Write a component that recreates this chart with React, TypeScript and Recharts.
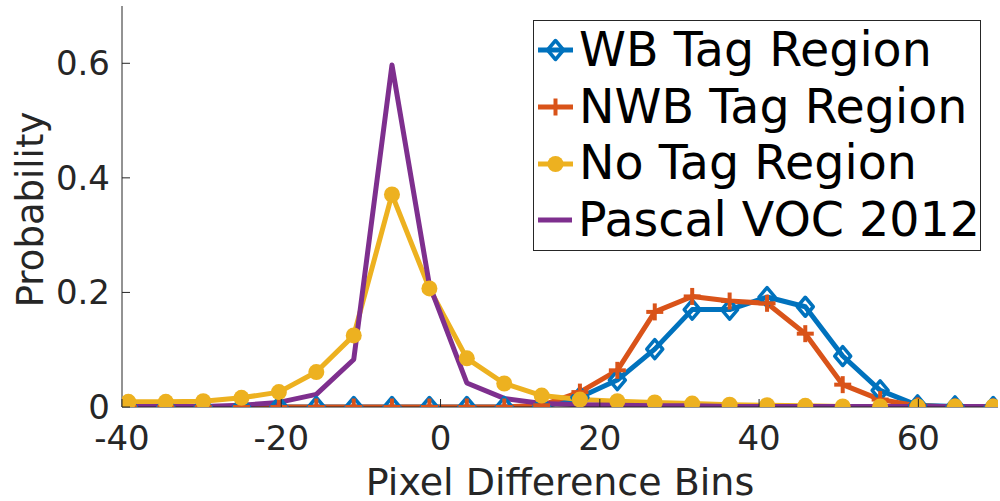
import React from 'react';
import { LineChart, Line, XAxis, YAxis, Legend, Label } from 'recharts';

// Bin centres (x)
const xBins = [-39.2, -34.5, -29.8, -25.0, -20.3, -15.6, -10.9, -6.1, -1.4, 3.3, 8.0, 12.7, 17.5, 22.2, 26.9, 31.6, 36.3, 41.0, 45.8, 50.5, 55.2, 59.9, 64.6, 69.4];

const wbTag = [0, 0, 0, 0, 0, 0, 0, 0, 0, 0, 0, 0, 0.017, 0.047, 0.101, 0.170, 0.170, 0.192, 0.175, 0.089, 0.029, 0.003, 0.001, 0];
const nwbTag = [0, 0, 0, 0, 0, 0, 0, 0, 0, 0, 0, 0.003, 0.026, 0.064, 0.166, 0.193, 0.185, 0.181, 0.128, 0.039, 0.013, 0.002, 0, 0];
const noTag = [0.009, 0.009, 0.01, 0.016, 0.026, 0.061, 0.125, 0.371, 0.207, 0.085, 0.041, 0.020, 0.013, 0.010, 0.008, 0.006, 0.004, 0.003, 0.002, 0.001, 0.001, 0.001, 0.001, 0.001];
const pascal = [0.001, 0.001, 0.001, 0.003, 0.008, 0.022, 0.083, 0.597, 0.213, 0.042, 0.015, 0.006, 0.004, 0.003, 0.002, 0.002, 0.001, 0.001, 0.001, 0.001, 0.001, 0.001, 0.001, 0.001];

const xTicks = [-40, -20, 0, 20, 40, 60];
const yTicks = [0, 0.2, 0.4, 0.6];

const seriesKeys = ['wb', 'nwb', 'noTag', 'pascal'];
const seriesNames: Record<string, string> = {
  wb: 'WB Tag Region',
  nwb: 'NWB Tag Region',
  noTag: 'No Tag Region',
  pascal: 'Pascal VOC 2012',
};

const C_BLUE = '#0072BD';
const C_RED = '#D95319';
const C_YEL = '#EDB120';
const C_PUR = '#7E2F8E';
const AX = '#262626';
const FONT = 'DejaVu Sans';

const data = xBins.map((x, i) => ({
  x,
  wb: wbTag[i],
  nwb: nwbTag[i],
  noTag: noTag[i],
  pascal: pascal[i],
}));

const Diamond = ({ cx, cy }: any) => (
  <polygon
    points={`${cx},${cy - 9.5} ${cx + 8},${cy} ${cx},${cy + 9.5} ${cx - 8},${cy}`}
    fill="none"
    stroke={C_BLUE}
    strokeWidth={3.5}
    strokeLinejoin="round"
  />
);
const Plus = ({ cx, cy }: any) => (
  <g>
    <line x1={cx - 8.5} y1={cy} x2={cx + 8.5} y2={cy} stroke={C_RED} strokeWidth={4} />
    <line x1={cx} y1={cy - 8.5} x2={cx} y2={cy + 8.5} stroke={C_RED} strokeWidth={4} />
  </g>
);
const Dot = ({ cx, cy }: any) => <circle cx={cx} cy={cy} r={8} fill={C_YEL} />;

const diamondDot = (p: any) => <Diamond key={`wb-${p.index}`} cx={p.cx} cy={p.cy} />;
const plusDot = (p: any) => <Plus key={`nwb-${p.index}`} cx={p.cx} cy={p.cy} />;
const circleDot = (p: any) => <Dot key={`nt-${p.index}`} cx={p.cx} cy={p.cy} />;

const BottomTick = (props: any) => {
  const { x, y, payload } = props;
  return (
    <g>
      <line x1={x} y1={y} x2={x} y2={y - 8} stroke={AX} strokeWidth={1} />
      <text x={x} y={y + 43} textAnchor="middle" fontSize={34} fontFamily={FONT} fill={AX}>
        {payload.value}
      </text>
    </g>
  );
};
const TopTick = (props: any) => {
  const { x, y } = props;
  return <line x1={x} y1={y} x2={x} y2={y + 8} stroke={AX} strokeWidth={1} />;
};
const LeftTick = (props: any) => {
  const { x, y, payload } = props;
  return (
    <g>
      <line x1={x} y1={y} x2={x + 8} y2={y} stroke={AX} strokeWidth={1} />
      <text x={x - 12} y={y + 12} textAnchor="end" fontSize={34} fontFamily={FONT} fill={AX}>
        {String(payload.value)}
      </text>
    </g>
  );
};
const RightTick = (props: any) => {
  const { x, y } = props;
  return <line x1={x} y1={y} x2={x - 8} y2={y} stroke={AX} strokeWidth={1} />;
};

const YLabel = (props: any) => {
  const vb = props.viewBox;
  const cx = vb.x + 30;
  const cy = vb.y + vb.height / 2 + 3;
  return (
    <text
      x={cx}
      y={cy}
      transform={`rotate(-90 ${cx} ${cy})`}
      textAnchor="middle"
      dominantBaseline="central"
      fontSize={37}
      fontFamily={FONT}
      fill={AX}
    >
      Probability
    </text>
  );
};

const LegendIcon = ({ k, color }: { k: string; color: string }) => (
  <svg width={35} height={24} style={{ display: 'block' }}>
    <line x1={0} y1={12} x2={35} y2={12} stroke={color} strokeWidth={5} />
    {k === 'wb' && <Diamond cx={17.5} cy={12} />}
    {k === 'nwb' && <Plus cx={17.5} cy={12} />}
    {k === 'noTag' && <Dot cx={17.5} cy={12} />}
  </svg>
);

const LegendBox = (props: any) => {
  const payload = [...(props.payload || [])].sort(
    (a: any, b: any) => seriesKeys.indexOf(a.dataKey) - seriesKeys.indexOf(b.dataKey)
  );
  return (
    <div
      style={{
        width: 446,
        height: 228,
        border: `1px solid ${AX}`,
        background: '#fff',
        boxSizing: 'content-box',
        paddingTop: 1,
      }}
    >
      {payload.map((e: any) => (
        <div
          key={e.dataKey}
          style={{
            display: 'flex',
            alignItems: 'center',
            height: 56.7,
            paddingLeft: 4,
          }}
        >
          <LegendIcon k={e.dataKey} color={e.color} />
          <span
            style={{
              marginLeft: 6,
              fontFamily: FONT,
              fontSize: 47.5,
              lineHeight: '56.7px',
              color: '#000',
              whiteSpace: 'nowrap',
            }}
          >
            {e.value}
          </span>
        </div>
      ))}
    </div>
  );
};

export default function App() {
  return (
    <div style={{ position: 'absolute', left: 0, top: 0, width: 1000, height: 501, background: '#fff' }}>
      <LineChart width={1000} height={501} data={data} margin={{ top: 6, right: 2, bottom: 0, left: 0 }}>
        <XAxis
          xAxisId="b"
          dataKey="x"
          type="number"
          domain={[-40, 70]}
          ticks={xTicks}
          allowDataOverflow
          interval={0}
          height={94}
          tickSize={0}
          tickMargin={0}
          tickLine={false}
          axisLine={{ stroke: AX, strokeWidth: 1 }}
          tick={<BottomTick />}
        >
          <Label
            value="Pixel Difference Bins"
            position="insideBottom"
            offset={6}
            fontSize={38}
            fontFamily={FONT}
            fill={AX}
          />
        </XAxis>
        <XAxis
          xAxisId="t"
          orientation="top"
          dataKey="x"
          type="number"
          domain={[-40, 70]}
          ticks={xTicks}
          allowDataOverflow
          interval={0}
          height={0}
          tickSize={0}
          tickMargin={0}
          tickLine={false}
          axisLine={{ stroke: AX, strokeWidth: 1 }}
          tick={<TopTick />}
        />
        <YAxis
          yAxisId="l"
          type="number"
          domain={[0, 0.7]}
          ticks={yTicks}
          allowDataOverflow
          interval={0}
          width={122}
          tickSize={0}
          tickMargin={0}
          tickLine={false}
          axisLine={{ stroke: AX, strokeWidth: 1 }}
          tick={<LeftTick />}
        >
          <Label content={<YLabel />} />
        </YAxis>
        <YAxis
          yAxisId="r"
          orientation="right"
          type="number"
          domain={[0, 0.7]}
          ticks={yTicks}
          allowDataOverflow
          interval={0}
          width={0}
          tickSize={0}
          tickMargin={0}
          tickLine={false}
          axisLine={{ stroke: AX, strokeWidth: 1 }}
          tick={<RightTick />}
        />
        <Line
          xAxisId="b"
          yAxisId="l"
          dataKey="wb"
          name={seriesNames.wb}
          stroke={C_BLUE}
          strokeWidth={5}
          strokeLinejoin="round"
          dot={diamondDot}
          activeDot={false}
          isAnimationActive={false}
        />
        <Line
          xAxisId="b"
          yAxisId="l"
          dataKey="nwb"
          name={seriesNames.nwb}
          stroke={C_RED}
          strokeWidth={5}
          strokeLinejoin="round"
          dot={plusDot}
          activeDot={false}
          isAnimationActive={false}
        />
        <Line
          xAxisId="b"
          yAxisId="l"
          dataKey="noTag"
          name={seriesNames.noTag}
          stroke={C_YEL}
          strokeWidth={5}
          strokeLinejoin="round"
          dot={circleDot}
          activeDot={false}
          isAnimationActive={false}
        />
        <Line
          xAxisId="b"
          yAxisId="l"
          dataKey="pascal"
          name={seriesNames.pascal}
          stroke={C_PUR}
          strokeWidth={5}
          strokeLinejoin="round"
          dot={false}
          activeDot={false}
          isAnimationActive={false}
        />
        <Legend
          layout="vertical"
          align="center"
          verticalAlign="middle"
          content={<LegendBox />}
          wrapperStyle={{ position: 'absolute', left: 533, top: 20, width: 448, height: 231 }}
        />
      </LineChart>
    </div>
  );
}
